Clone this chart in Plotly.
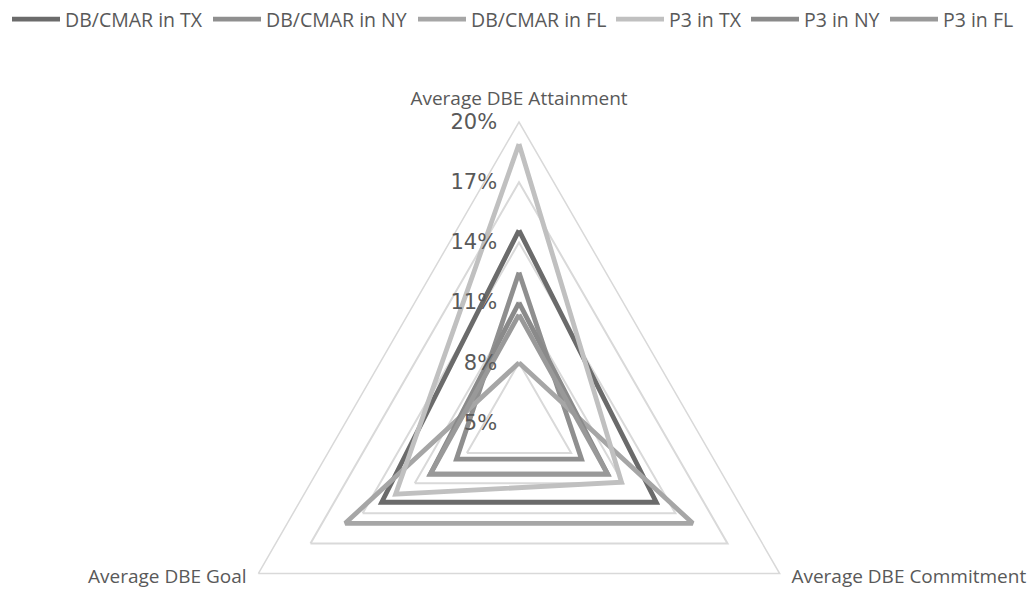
import plotly.graph_objects as go

# Radar axes, clockwise from the top
axis_labels = ["Average DBE Attainment", "Average DBE Commitment", "Average DBE Goal"]
# the two lower captions carry empty trailing lines so they sit a little higher
axis_label_text = ["Average DBE Attainment",
                   "Average DBE Commitment<br><br>",
                   "Average DBE Goal<br><br>"]

# Series values in percent, ordered like axis_labels
series_names = ["DB/CMAR in TX", "DB/CMAR in NY", "DB/CMAR in FL",
                "P3 in TX", "P3 in NY", "P3 in FL"]
db_cmar_tx = [14.6, 12.9, 12.9]
db_cmar_ny = [12.5, 8.6, 8.6]
db_cmar_fl = [8.0, 15.0, 15.0]
p3_tx = [18.9, 10.9, 12.1]
p3_ny = [11.0, 10.1, 10.1]
p3_fl = [10.4, 10.1, 10.1]

radial_ticks = [5, 8, 11, 14, 17, 20]
radial_tick_text = ["5%", "8%", "11%", "14%", "17%", "20%"]

series_values = [db_cmar_tx, db_cmar_ny, db_cmar_fl, p3_tx, p3_ny, p3_fl]
series_colors = ["#6b6b6b", "#8f8f8f", "#a6a6a6", "#c0c0c0", "#8a8a8a", "#999999"]

# left edge (px) of each legend swatch along the top row
legend_left_px = [12, 213, 418, 616, 751, 890]

TEXT = "#595959"
GRID = "#d9d9d9"
FONT = "Open Sans"

W, H = 1027, 724          # canvas taller than the window so the triangle's centre sits low
CX, CY, R = 519, 423, 301  # centre and outer radius in px (from top-left)

fig = go.Figure()
legend_ids = ["legend"] + [f"legend{i}" for i in range(2, len(series_names) + 1)]
for name, vals, col, lid in zip(series_names, series_values, series_colors, legend_ids):
    fig.add_trace(go.Scatterpolar(
        r=vals + vals[:1],
        theta=axis_labels + axis_labels[:1],
        mode="lines",
        name=name,
        legend=lid,
        line=dict(color=col, width=4.8),
        hoverinfo="skip",
    ))

dom_x0 = (2 * CX - W) / W
dom_y0 = (H - (CY + R)) / H
dom_y1 = (H - (CY - R)) / H

legend_style = dict(
    orientation="h", y=1.0, xanchor="left", yanchor="top",
    font=dict(family=FONT, size=19.5, color=TEXT),
    itemwidth=48, bgcolor="rgba(0,0,0,0)",
)
legend_layout = {}
for lid, left in zip(legend_ids, legend_left_px):
    legend_layout[lid] = dict(legend_style, x=(left - 5) / W)

fig.update_layout(
    width=W, height=H,
    margin=dict(l=0, r=0, t=0, b=0),
    paper_bgcolor="white",
    font=dict(family=FONT, color=TEXT),
    showlegend=True,
    **legend_layout,
    polar=dict(
        domain=dict(x=[dom_x0, 1], y=[dom_y0, dom_y1]),
        bgcolor="white",
        gridshape="linear",
        angularaxis=dict(
            type="category",
            categoryorder="array", categoryarray=axis_labels,
            tickvals=axis_labels, ticktext=axis_label_text,
            rotation=90, direction="clockwise",
            showgrid=False,
            showline=True, linecolor=GRID, linewidth=1.5,
            ticks="outside", ticklen=9, tickcolor="rgba(0,0,0,0)",
            tickfont=dict(family=FONT, size=19, color=TEXT),
        ),
        radialaxis=dict(
            range=[5, 20], angle=90, side="counterclockwise",
            tickvals=radial_ticks, ticktext=radial_tick_text,
            showline=False,
            showgrid=True, gridcolor=GRID, gridwidth=1.5,
            ticks="outside", ticklen=14, tickcolor="rgba(0,0,0,0)",
            tickfont=dict(family="DejaVu Sans", size=21, color=TEXT),
            tickangle=90,
        ),
    ),
)

fig.write_html(
    "out.html",
    post_script="document.documentElement.style.overflow='hidden';document.body.style.overflow='hidden';",
)
